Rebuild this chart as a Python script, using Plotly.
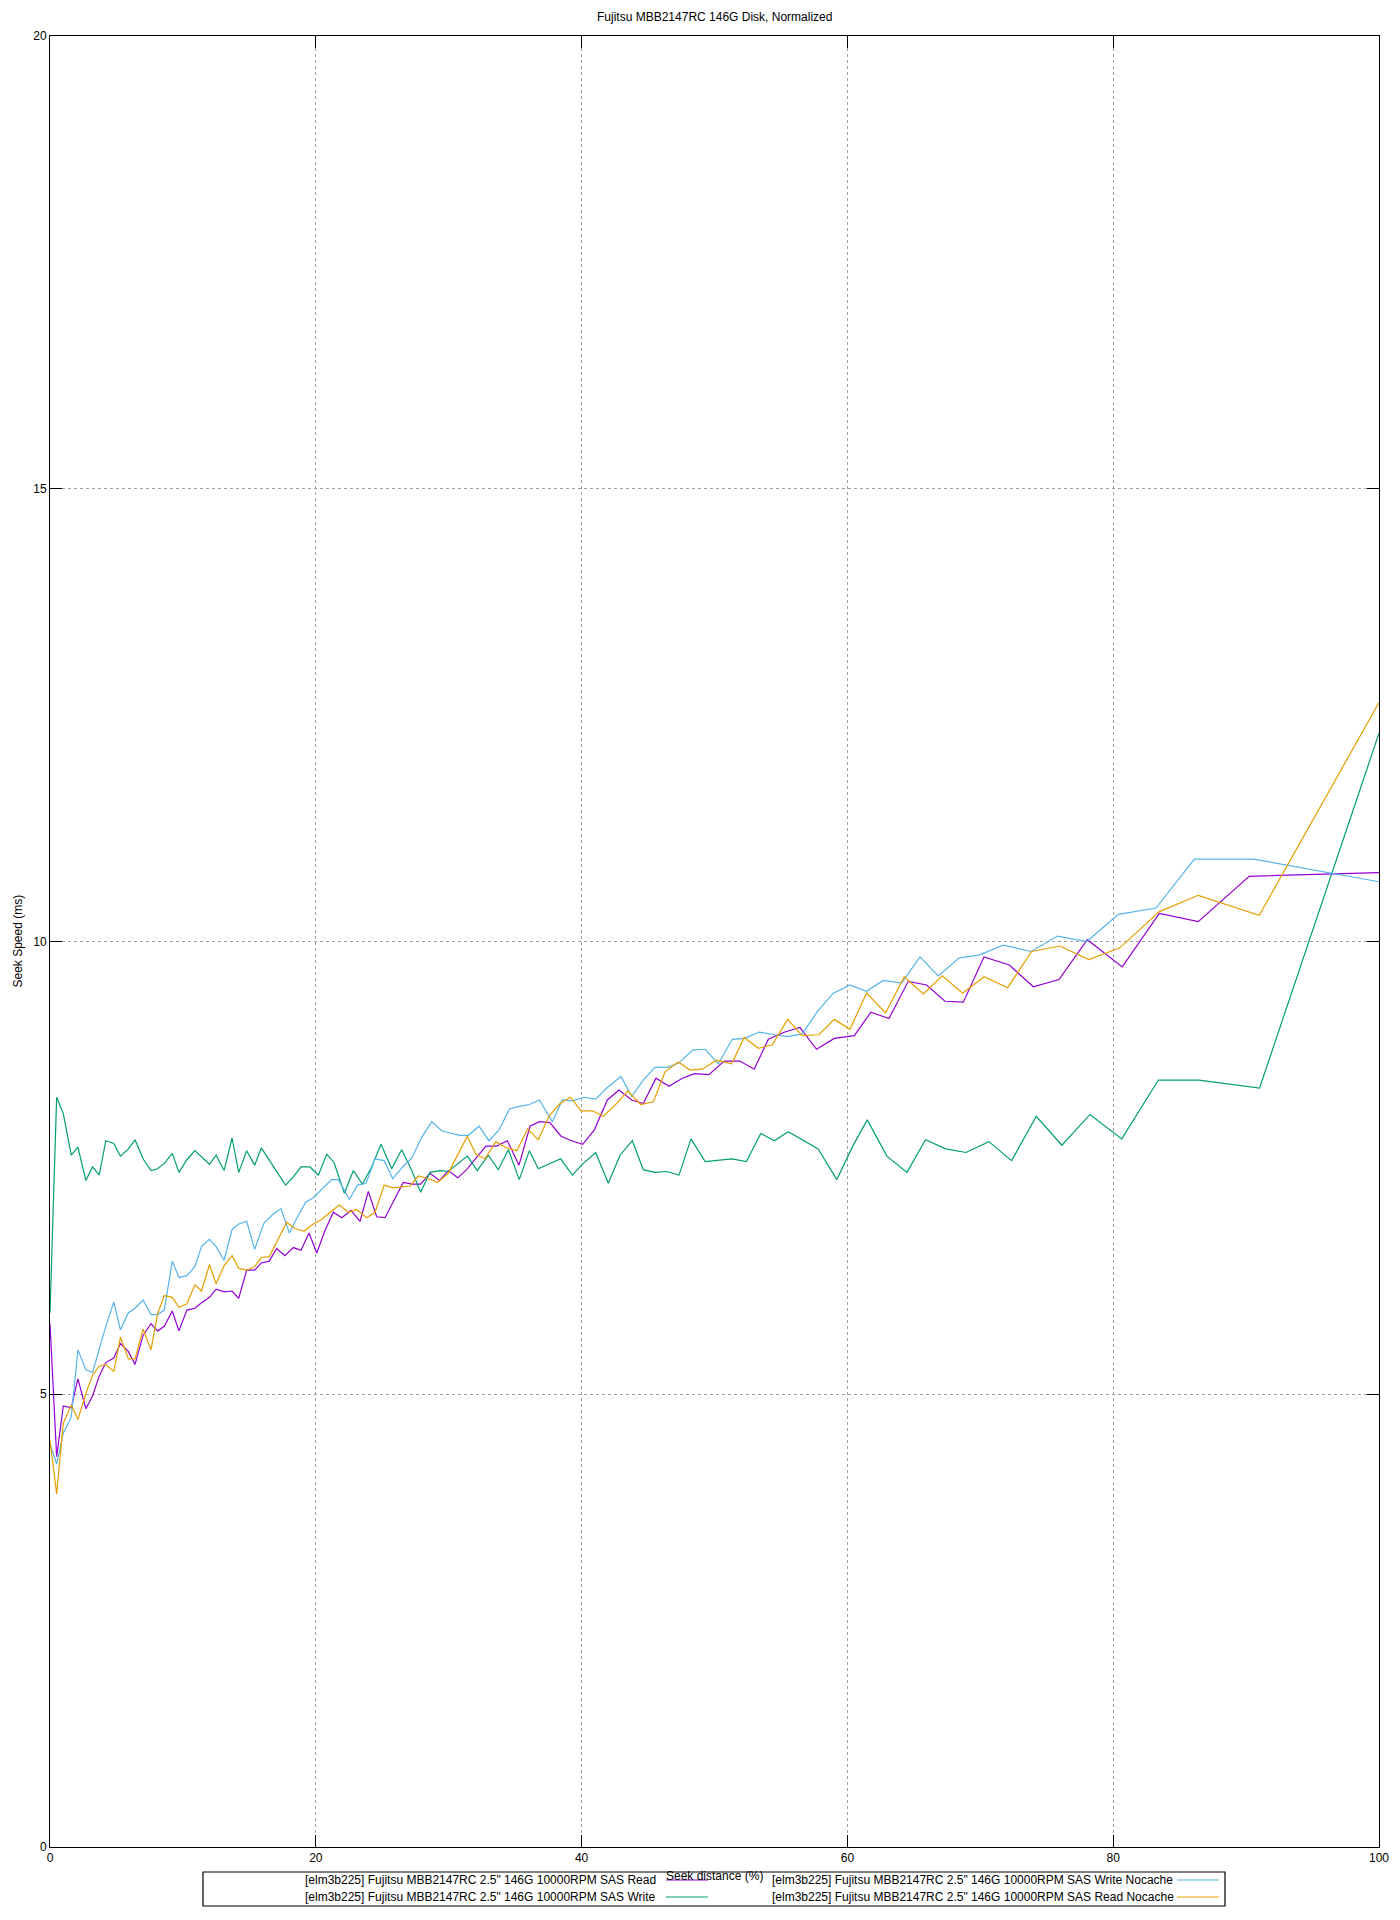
import plotly.graph_objects as go

# ---------------- data ----------------
TITLE = "Fujitsu MBB2147RC 146G Disk, Normalized"
X_TITLE = "Seek distance (%)"
Y_TITLE = "Seek Speed (ms)"
X_TICKS = [0, 20, 40, 60, 80, 100]
Y_TICKS = [0, 5, 10, 15, 20]

NAMES = [
    '[elm3b225] Fujitsu MBB2147RC 2.5" 146G 10000RPM SAS Read',
    '[elm3b225] Fujitsu MBB2147RC 2.5" 146G 10000RPM SAS Write',
    '[elm3b225] Fujitsu MBB2147RC 2.5" 146G 10000RPM SAS Write Nocache',
    '[elm3b225] Fujitsu MBB2147RC 2.5" 146G 10000RPM SAS Read Nocache',
]
COLORS = ["#9400D3", "#009E73", "#56B4E9", "#E69F00"]

x_start = [0, 0.5, 1.0, 1.6, 2.1, 2.7, 3.2, 3.7, 4.2, 4.8, 5.3, 5.9, 6.4, 7.0, 7.6,
           8.1, 8.6, 9.2, 9.7, 10.3, 10.9, 11.4, 12.0, 12.5, 13.1, 13.7, 14.2, 14.8,
           15.4, 15.9, 16.5]

read_x = x_start + [
    17.05, 17.68, 18.31, 18.89, 19.49, 20.07, 20.70, 21.32, 21.95, 22.65,
    23.33, 23.95, 24.58, 25.21, 25.83, 26.58, 27.26, 27.89, 28.59, 29.30,
    29.97, 30.68, 31.35, 32.05, 32.8, 33.61, 34.41, 35.29, 36.12, 36.82,
    37.62, 38.45, 39.25, 40.08, 40.96, 41.94, 42.81, 43.77, 44.64, 45.60,
    46.58, 47.58, 48.5, 49.58, 50.73, 51.91, 52.99, 54.05, 55.30, 56.43,
    57.68, 59.01, 60.52, 61.77, 63.13, 64.58, 65.96, 67.34, 68.72, 70.28,
    72.18, 73.99, 75.92, 78.05, 80.68, 83.47, 86.40, 90.23, 100]
read_y = [
    5.78, 4.31, 4.87, 4.85, 5.17, 4.84, 4.98, 5.20, 5.35, 5.40, 5.56, 5.47, 5.33,
    5.65, 5.78, 5.70, 5.75, 5.92, 5.70, 5.93, 5.95, 6.01, 6.07, 6.16, 6.13, 6.14,
    6.06, 6.37, 6.37, 6.45, 6.47,
    6.61, 6.53, 6.62, 6.59, 6.78, 6.56, 6.81, 7.01, 6.95, 7.03,
    6.91, 7.24, 6.96, 6.95, 7.12, 7.34, 7.32, 7.32, 7.44, 7.36,
    7.47, 7.39, 7.48, 7.60, 7.74, 7.74, 7.80, 7.53, 7.96, 8.01,
    8.00, 7.85, 7.80, 7.76, 7.92, 8.25, 8.36, 8.25, 8.21, 8.49,
    8.40, 8.49, 8.54, 8.53, 8.68, 8.68, 8.59, 8.92, 9.00, 9.05,
    8.81, 8.93, 8.96, 9.22, 9.15, 9.56, 9.52, 9.34, 9.33, 9.83,
    9.74, 9.50, 9.58, 10.02, 9.72, 10.31, 10.22, 10.72, 10.76]

write_x = x_start[:30] + [
    16.5, 17.1, 17.73, 18.31, 18.89, 19.57, 20.19, 20.82, 21.37, 22.15,
    22.83, 23.50, 24.20, 24.91, 25.71, 26.46, 27.22, 27.89, 28.59, 29.35,
    29.97, 30.73, 31.40, 32.15, 32.98, 33.73, 34.49, 35.31, 36.07, 36.74,
    37.62, 38.43, 39.30, 40.13, 41.06, 42.01, 42.89, 43.82, 44.64, 45.52,
    46.40, 47.33, 48.23, 49.3, 51.3, 52.4, 53.48, 54.50, 55.55, 57.8,
    59.2, 60.4, 61.5, 62.97, 64.48, 65.88, 67.39, 68.92, 70.64, 72.36,
    74.21, 76.14, 78.25, 80.64, 83.40, 86.46, 91.01, 100]
write_y = [
    5.9, 8.28, 8.10, 7.64, 7.73, 7.36, 7.51, 7.42, 7.80, 7.77, 7.63, 7.71, 7.81,
    7.60, 7.47, 7.49, 7.55, 7.66, 7.45, 7.59, 7.69, 7.62, 7.54, 7.64, 7.47, 7.83,
    7.45, 7.69, 7.53, 7.72,
    7.58, 7.45, 7.31, 7.40, 7.51, 7.51, 7.42, 7.65, 7.56, 7.22,
    7.47, 7.32, 7.51, 7.76, 7.49, 7.70, 7.47, 7.23, 7.45, 7.47,
    7.46, 7.55, 7.63, 7.47, 7.64, 7.48, 7.70, 7.37, 7.69, 7.49,
    7.55, 7.60, 7.42, 7.55, 7.67, 7.33, 7.64, 7.80, 7.48, 7.45,
    7.46, 7.42, 7.82, 7.57, 7.60, 7.57, 7.88, 7.80, 7.90, 7.71,
    7.37, 7.74, 8.03, 7.63, 7.45, 7.81, 7.71, 7.67, 7.79, 7.58,
    8.07, 7.75, 8.09, 7.82, 8.47, 8.47, 8.38, 12.30]

wnc_x = x_start[:29] + [16.1] + [
    16.80, 17.38, 18.01, 18.56, 19.24, 19.81, 20.44, 21.19, 21.70, 22.53,
    23.13, 23.78, 24.46, 25.14, 25.79, 26.54, 27.22, 27.98, 28.72, 29.47,
    30.23, 30.85, 31.48, 32.28, 33.03, 33.79, 34.57, 35.31, 36.07, 36.82,
    37.80, 38.55, 39.30, 40.21, 41.06, 41.96, 42.96, 43.77, 44.64, 45.52,
    46.48, 47.33, 48.36, 49.29, 50.29, 51.34, 52.29, 53.35, 54.55, 55.50,
    56.60, 57.76, 58.94, 60.19, 61.44, 62.70, 64.08, 65.46, 66.84, 68.42,
    69.90, 71.73, 73.82, 75.82, 78.01, 80.39, 83.22, 86.11, 90.55, 100]
wnc_y = [
    4.45, 4.23, 4.57, 4.75, 5.49, 5.27, 5.24, 5.50, 5.75, 6.02, 5.71, 5.90, 5.95,
    6.04, 5.88, 5.88, 5.93, 6.47, 6.29, 6.31, 6.41, 6.63, 6.71, 6.63, 6.48, 6.82,
    6.88, 6.91, 6.60, 6.89,
    6.99, 7.05, 6.78, 6.94, 7.12, 7.17, 7.26, 7.37, 7.37, 7.15,
    7.31, 7.33, 7.60, 7.58, 7.38, 7.51, 7.61, 7.84, 8.01, 7.91,
    7.88, 7.86, 7.86, 7.96, 7.80, 7.92, 8.15, 8.18, 8.20, 8.25,
    8.01, 8.25, 8.24, 8.28, 8.26, 8.39, 8.51, 8.29, 8.47, 8.61,
    8.61, 8.66, 8.80, 8.81, 8.65, 8.92, 8.93, 9.00, 8.97, 8.95,
    8.98, 9.23, 9.43, 9.52, 9.45, 9.57, 9.54, 9.83, 9.62, 9.82,
    9.85, 9.96, 9.89, 10.06, 10.00, 10.30, 10.37, 10.91, 10.91, 10.66]

rnc_x = x_start + [
    17.15, 17.81, 18.43, 19.12, 19.81, 20.44, 21.07, 21.77, 22.45, 23.08,
    23.83, 24.46, 25.14, 25.79, 26.47, 27.09, 27.72, 28.47, 29.17, 29.97,
    30.73, 31.40, 32.05, 32.73, 33.54, 34.36, 35.12, 35.94, 36.74, 37.54,
    38.37, 39.18, 39.95, 40.81, 41.63, 42.51, 43.47, 44.45, 45.40, 46.28,
    47.28, 48.16, 49.08, 50.16, 51.29, 52.24, 53.30, 54.35, 55.50, 56.60,
    57.86, 59.01, 60.19, 61.44, 62.87, 64.28, 65.71, 67.14, 68.67, 70.28,
    72.06, 73.86, 75.99, 78.17, 80.50, 83.47, 86.40, 90.99, 100]
rnc_y = [
    4.49, 3.90, 4.68, 4.88, 4.72, 5.01, 5.21, 5.31, 5.33, 5.25, 5.63, 5.39, 5.39,
    5.72, 5.49, 5.89, 6.09, 6.07, 5.96, 6.00, 6.21, 6.14, 6.43, 6.22, 6.42, 6.53,
    6.39, 6.37, 6.41, 6.51, 6.52,
    6.70, 6.90, 6.83, 6.80, 6.88, 6.93, 7.01, 7.09, 7.01, 7.04,
    6.95, 7.01, 7.31, 7.28, 7.29, 7.30, 7.41, 7.38, 7.34, 7.44,
    7.66, 7.85, 7.65, 7.60, 7.79, 7.72, 7.69, 7.93, 7.81, 8.07,
    8.21, 8.28, 8.13, 8.13, 8.07, 8.19, 8.35, 8.20, 8.23, 8.56,
    8.67, 8.58, 8.59, 8.69, 8.65, 8.94, 8.82, 8.86, 9.14, 8.96,
    8.97, 9.14, 9.03, 9.43, 9.21, 9.61, 9.42, 9.62, 9.43, 9.61,
    9.49, 9.89, 9.95, 9.80, 9.93, 10.33, 10.51, 10.29, 12.64]

SERIES = [(read_x, read_y), (write_x, write_y), (wnc_x, wnc_y), (rnc_x, rnc_y)]

# ---------------- layout constants ----------------
# the page body adds an 8px offset; plot area in page pixels: x 50..1379, y 35.5..1847
OFF = 8
W, H = 1392, 1912
ML, MT = 42, 27.5
MR = W - (1379 - OFF)
MB = H - (1847 - OFF)
PW, PH = W - ML - MR, H - MT - MB
FONT = "Liberation Sans, Arial, sans-serif"
FS = 12


def px(xp):
    return (xp - OFF - ML) / PW


def py(yp):
    return (H - MB - (yp - OFF)) / PH


fig = go.Figure()
for (xs, ys), name, col in zip(SERIES, NAMES, COLORS):
    fig.add_trace(go.Scatter(x=xs, y=ys, mode="lines", name=name,
                             line=dict(color=col, width=1.2), showlegend=False))

axis_common = dict(showline=True, linecolor="black", linewidth=1, mirror="ticks",
                   ticks="inside", ticklen=12, tickcolor="black", tickwidth=1,
                   showgrid=True, gridcolor="#a0a0a0", griddash="dot", gridwidth=1,
                   zeroline=False, automargin=False,
                   tickfont=dict(family=FONT, size=FS, color="black"))

fig.update_xaxes(range=[0, 100], tickvals=X_TICKS, **axis_common)
fig.update_yaxes(range=[0, 20], tickvals=Y_TICKS, **axis_common)

annotations = [
    dict(text=TITLE, x=0.5, y=py(16), xref="paper", yref="paper",
         xanchor="center", yanchor="middle", showarrow=False,
         font=dict(family=FONT, size=FS, color="black")),
    dict(text=Y_TITLE, x=px(17), y=0.5, xref="paper", yref="paper",
         xanchor="center", yanchor="middle", textangle=-90, showarrow=False,
         font=dict(family=FONT, size=FS, color="black")),
]

# custom gnuplot-style legend (text then sample line)
shapes = [dict(type="rect", xref="paper", yref="paper",
               x0=px(203), x1=px(1225), y0=py(1906), y1=py(1872),
               line=dict(color="black", width=1.2), fillcolor="white", layer="above")]
rows_y = [1880, 1897]
legend_pos = [  # (anchor, text_x, line_x0, line_x1, row)
    ("right", 658, 666, 708, 0),
    ("right", 658, 666, 708, 1),
    ("left", 770, 1177, 1219, 0),
    ("left", 770, 1177, 1219, 1),
]
for name, col, (anc, tx, l0, l1, r) in zip(NAMES, COLORS, legend_pos):
    annotations.append(dict(text=name, x=px(tx), y=py(rows_y[r]), xref="paper", yref="paper",
                            xanchor=anc, yanchor="middle", showarrow=False,
                            font=dict(family=FONT, size=FS, color="black")))
    shapes.append(dict(type="line", xref="paper", yref="paper",
                       x0=px(l0), x1=px(l1), y0=py(rows_y[r]), y1=py(rows_y[r]),
                       line=dict(color=col, width=1.2), layer="above"))

annotations.append(dict(text=X_TITLE, x=px(714), y=py(1876), xref="paper", yref="paper",
                        xanchor="center", yanchor="middle", showarrow=False,
                        font=dict(family=FONT, size=FS, color="black")))

fig.update_layout(width=W, height=H, margin=dict(l=ML, r=MR, t=MT, b=MB, autoexpand=False),
                  paper_bgcolor="white", plot_bgcolor="white",
                  annotations=annotations, shapes=shapes, showlegend=False,
                  font=dict(family=FONT, size=FS, color="black"))

fig.write_html("out.html")
